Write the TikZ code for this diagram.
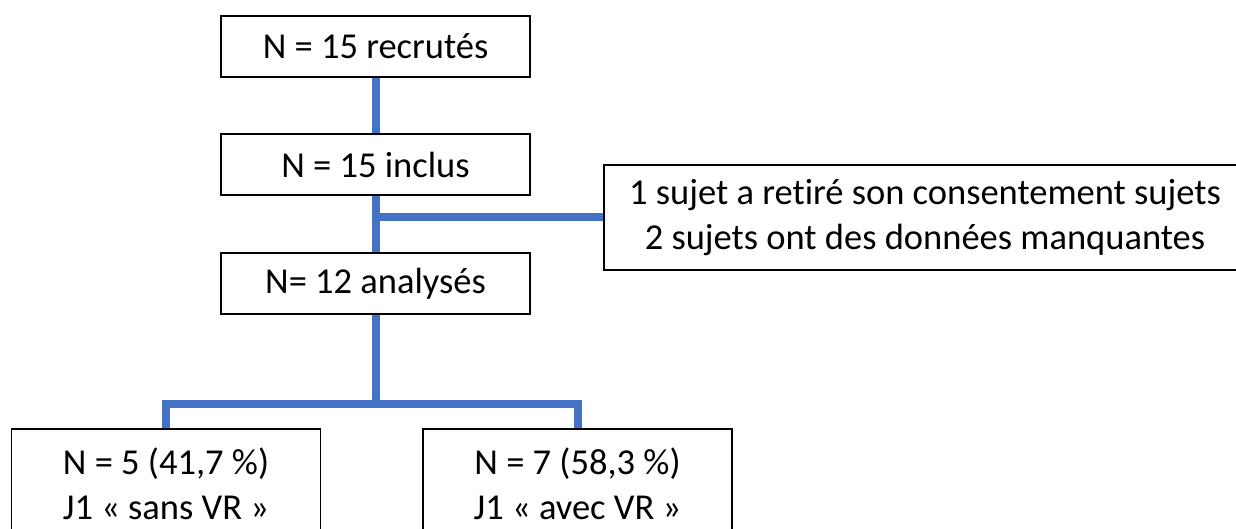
\documentclass[tikz,border=0pt]{standalone}
\usepackage{fontspec}
\setmainfont{Carlito}[Ligatures=NoCommon]
\definecolor{flowblue}{HTML}{4472C4}
\tikzset{
    BX/.style ={rectangle, draw, line width=1.6pt, minimum width=309pt, minimum height=61pt, inner sep=0pt,
                font=\fontsize{36.5}{45}\selectfont, align=center},
    BX2/.style ={BX, minimum height=110pt},
    LK/.style ={flowblue, line width=8pt}}
\begin{document}
\begin{tikzpicture}[x=1pt,y=1pt]
        \useasboundingbox (0,0) rectangle (1236,-529);
        \node[BX] (rec) at(375.5,-46.5){N = 15 recrutés};
        \node[BX] (inc) at(375.5,-164.5){N = 15 inclus};
        \node[BX] (ana) at(375.5,-283.5){N= 12 analysés};
        \node[BX,minimum width=642pt,minimum height=105pt] (ret) at(925,-217.5){1 sujet a retiré son consentement sujets\\2 sujets ont des données manquantes};
        \node[BX2] (sans) at(166,-484){N = 5 (41,7 \%)\\J1 « sans VR »};
        \node[BX2] (avec) at(577.5,-484){N = 7 (58,3 \%)\\J1 « avec VR »};
        \draw[LK] (rec) --(inc);
        \draw[LK] (inc) --(ana);
        \draw[LK] (inc.south |- ret.west) --(ret.west);
        \draw[LK] (ana.south) -- ++(0,-89) coordinate (fork);
        \draw[LK] (sans.north) |- (fork) -| (avec.north);
    \end{tikzpicture}
\end{document}
